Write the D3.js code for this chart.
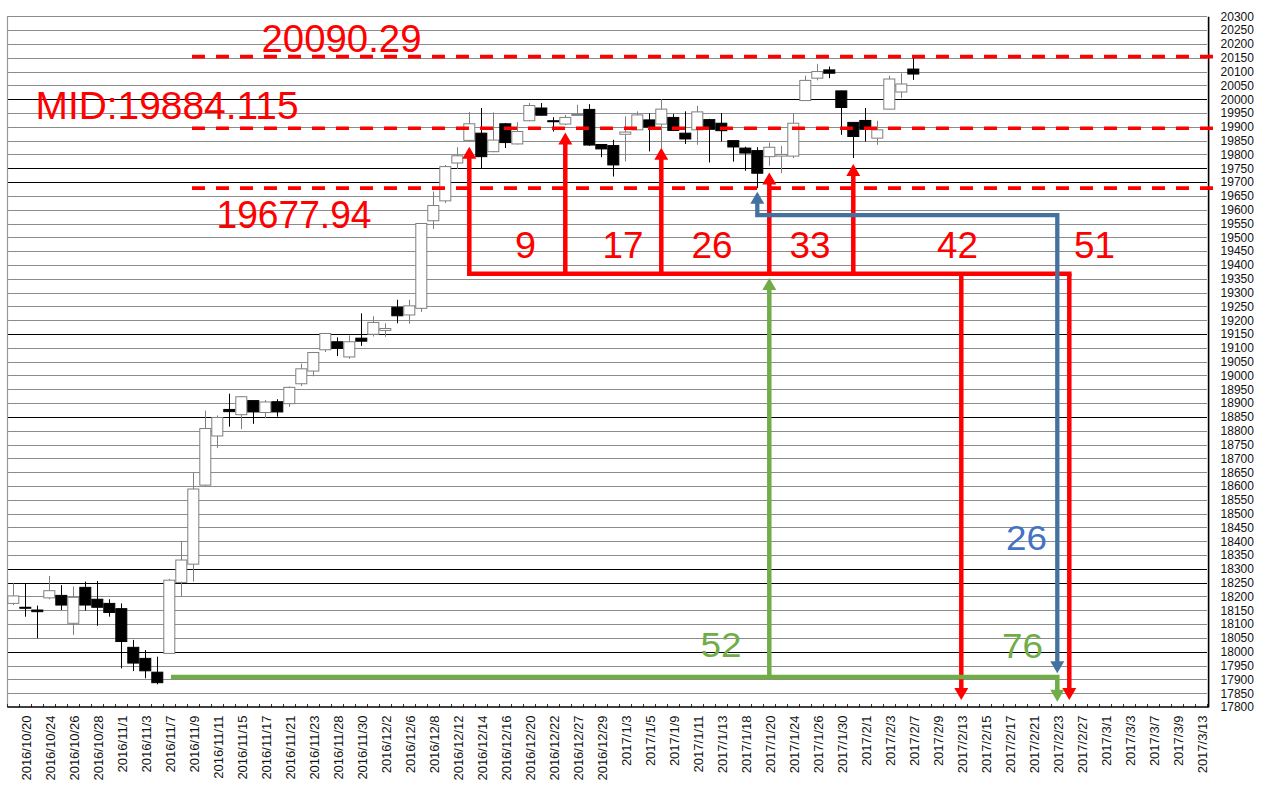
<!DOCTYPE html>
<html><head><meta charset="utf-8">
<script src="https://cdn.jsdelivr.net/npm/d3@7"></script>
<style>body{margin:0;background:#fff;} svg{display:block;}</style>
</head><body>
<svg id="c" width="1263" height="789"></svg>
<script>
// ---- data ----
const dates = [
"2016/10/19","2016/10/20","2016/10/21","2016/10/24","2016/10/25","2016/10/26","2016/10/27","2016/10/28","2016/10/31",
"2016/11/1","2016/11/2","2016/11/3","2016/11/4","2016/11/7","2016/11/8","2016/11/9","2016/11/10","2016/11/11","2016/11/14","2016/11/15","2016/11/16","2016/11/17","2016/11/18","2016/11/21","2016/11/22","2016/11/23","2016/11/25","2016/11/28","2016/11/29","2016/11/30",
"2016/12/1","2016/12/2","2016/12/5","2016/12/6","2016/12/7","2016/12/8","2016/12/9","2016/12/12","2016/12/13","2016/12/14","2016/12/15","2016/12/16","2016/12/19","2016/12/20","2016/12/21","2016/12/22","2016/12/23","2016/12/27","2016/12/28","2016/12/29","2016/12/30",
"2017/1/3","2017/1/4","2017/1/5","2017/1/6","2017/1/9","2017/1/10","2017/1/11","2017/1/12","2017/1/13","2017/1/17","2017/1/18","2017/1/19","2017/1/20","2017/1/23","2017/1/24","2017/1/25","2017/1/26","2017/1/27","2017/1/30","2017/1/31",
"2017/2/1","2017/2/2","2017/2/3","2017/2/6","2017/2/7","2017/2/8","2017/2/9","2017/2/10","2017/2/13","2017/2/14","2017/2/15","2017/2/16","2017/2/17","2017/2/20","2017/2/21","2017/2/22","2017/2/23","2017/2/24","2017/2/27","2017/2/28",
"2017/3/1","2017/3/2","2017/3/3","2017/3/6","2017/3/7","2017/3/8","2017/3/9","2017/3/10","2017/3/13"];

const opens  = [18175,18161,18151,18195,18204,18103,18233,18190,18175,18156,18016,17976,17926,17994,18251,18317,18603,18781,18877,18858,18909,18866,18905,18898,18970,19016,19093,19122,19067,19135,19149,19163,19247,19219,19243,19560,19632,19769,19851,19877,19810,19911,19838,19922,19968,19922,19910,19943,19963,19836,19832,19873,19889,19925,19910,19934,19877,19889,19926,19913,19850,19823,19814,19792,19794,19794,19995,20076,20106,20030,19916,19923,19859,19964,20026,20109];
const highs  = [18248,18245,18167,18274,18241,18236,18254,18256,18190,18175,18043,18006,17982,18264,18401,18650,18873,18855,18934,18925,18910,18911,18914,18960,19043,19085,19153,19138,19145,19225,19214,19189,19274,19274,19552,19666,19762,19826,19954,19968,19952,19913,19917,19986,19986,19935,19943,19980,19982,19838,19853,19938,19956,19949,20000,19946,19956,19976,19929,19950,19852,19828,19826,19843,19831,19950,20085,20128,20118,20031,19917,19968,19922,20085,20094,20150];
const lows   = [18169,18127,18049,18190,18151,18061,18149,18094,18127,17940,17930,17904,17882,17993,18200,18254,18600,18737,18815,18806,18825,18845,18851,18886,18962,18997,19085,19070,19060,19107,19141,19140,19189,19187,19230,19530,19624,19747,19846,19750,19808,19823,19836,19920,19941,19883,19906,19940,19831,19790,19720,19775,19888,19811,19823,19887,19838,19835,19771,19847,19774,19741,19678,19759,19732,19787,19994,20068,20076,19871,19787,19847,19835,19963,20004,20070];
const closes = [18202,18160,18145,18221,18169,18197,18169,18161,18142,18037,17959,17931,17888,18259,18332,18589,18808,18848,18869,18923,18868,18904,18868,18957,19024,19083,19152,19098,19122,19124,19192,19170,19216,19252,19550,19615,19756,19795,19911,19792,19852,19843,19883,19977,19942,19919,19934,19945,19834,19820,19762,19881,19943,19899,19964,19887,19856,19954,19891,19886,19827,19805,19732,19826,19800,19913,20068,20100,20094,19970,19865,19891,19889,20073,20055,20091];

const yTicks = d3.range(17800, 20301, 50);
const xLabels = dates.filter((d, i) => i % 2 === 1);

// annotation content
const levelValues = [20154, 19895, 19678];
const levelTexts = ["20090.29", "MID:19884.115", "19677.94"];
const redUpDates = ["2016/12/13","2016/12/23","2017/1/6","2017/1/20","2017/1/31"];
const redUpTips = [19828, 19879, 19824, 19735, 19765];
const redDownDates = ["2017/2/13","2017/2/24"];
const redCounts = ["9","17","26","33","42","51"];

// ---- style / layout ----
const darkGrid = [20000, 19750, 19700, 19150, 18850, 18300, 18250, 18000];
const RED = "#FF0000", BLUE = "#44729E", BLUE_T = "#4472C4", GREEN = "#70AD47";

const svg = d3.select("#c");
const x = d3.scaleBand().domain(dates).range([7.3, 1207.3]).padding(0);
const y = d3.scaleLinear().domain([17800, 20300]).range([707, 16.3]);
const bw = x.bandwidth();
const cx = d => x(d) + bw / 2;
const ux = u => x.range()[0] + u * bw;   // position in category units
const crisp = v => Math.round(y(v)) + 0.5;

// gridlines
svg.append("g").selectAll("line").data(yTicks.filter(v => v > 17800)).join("line")
  .attr("x1", x.range()[0]).attr("x2", x.range()[1])
  .attr("y1", crisp).attr("y2", crisp)
  .attr("stroke", v => darkGrid.includes(v) ? "#000" : "#8c8c8c")
  .attr("shape-rendering", "crispEdges");
// left border
svg.append("line").attr("x1", 7.5).attr("x2", 7.5).attr("y1", y(20300)).attr("y2", y(17800))
  .attr("stroke", "#999").attr("stroke-width", 1.2);

// candles
const candles = opens.map((o, i) => ({d: dates[i], o, h: highs[i], l: lows[i], c: closes[i]}));
const cg = svg.append("g");
cg.selectAll("line.w").data(candles).join("line").attr("class", "w")
  .attr("x1", d => Math.round(cx(d.d)) + 0.5).attr("x2", d => Math.round(cx(d.d)) + 0.5)
  .attr("y1", d => y(d.h)).attr("y2", d => y(d.l))
  .attr("stroke", d => d.c >= d.o ? "#7f7f7f" : "#000").attr("stroke-width", 1);
cg.selectAll("rect").data(candles).join("rect")
  .attr("x", d => x(d.d) + 0.5).attr("width", bw - 1)
  .attr("y", d => y(Math.max(d.o, d.c)))
  .attr("height", d => Math.max(1, Math.abs(y(d.o) - y(d.c))))
  .attr("fill", d => d.c >= d.o ? "#fff" : "#000")
  .attr("stroke", d => d.c >= d.o ? "#7f7f7f" : "#000").attr("stroke-width", 1);

// x axis
const xAxis = d3.axisBottom(x).tickValues(xLabels).tickSize(0).tickPadding(0);
const gx = svg.append("g").attr("transform", `translate(0,${y(17800)})`).call(xAxis);
gx.select(".domain").remove();
gx.selectAll("text")
  .attr("transform", "translate(1.5,8.5) rotate(-90)")
  .attr("text-anchor", "end").attr("dy", "0.35em").attr("x", 0).attr("y", 0)
  .style("font-family", "'Liberation Sans', Arial, sans-serif").style("font-size", "13px").attr("fill", "#111");
// category boundary ticks (inside)
svg.append("g").selectAll("line").data(dates.map(d => x(d)).concat([x.range()[1]])).join("line")
  .attr("x1", v => Math.round(v) + 0.5).attr("x2", v => Math.round(v) + 0.5)
  .attr("y1", y(17800) - 3).attr("y2", y(17800)).attr("stroke", "#333");
svg.append("line").attr("x1", x.range()[0]).attr("x2", x.range()[1] + 1)
  .attr("y1", y(17800)).attr("y2", y(17800)).attr("stroke", "#000").attr("stroke-width", 1.6);

// y axis (right)
const yAxis = d3.axisRight(y).tickValues(yTicks).tickSize(0).tickPadding(12.5).tickFormat(d3.format("d"));
const gy = svg.append("g").attr("transform", `translate(${x.range()[1] + 0.8},0)`).call(yAxis);
gy.select(".domain").attr("stroke", "#000").attr("stroke-width", 1.6);
gy.selectAll("text").style("font-family", "'Liberation Sans', Arial, sans-serif").style("font-size", "12px").attr("fill", "#111");

// ---- annotations ----
const ag = svg.append("g");
const FONT = "'Liberation Sans Narrow', 'Liberation Sans', Arial, sans-serif";

// dashed levels
ag.selectAll("line.lv").data(levelValues).join("line").attr("class", "lv")
  .attr("x1", ux(15.39)).attr("x2", ux(100.8)).attr("y1", d => y(d)).attr("y2", d => y(d))
  .attr("stroke", RED).attr("stroke-width", 3.6).attr("stroke-dasharray", "13,11");

function head(xp, tipY, dir, color) { // dir -1 up, +1 down
  const hw = 7, hl = 12;
  ag.append("path").attr("d", `M${xp},${tipY} L${xp - hw},${tipY - dir * hl} L${xp + hw},${tipY - dir * hl} Z`).attr("fill", color);
}
function seg(points, color, w) {
  ag.append("path").attr("d", d3.line()(points)).attr("fill", "none")
    .attr("stroke", color).attr("stroke-width", w).attr("stroke-linejoin", "miter").attr("stroke-linecap", "butt");
}
const LW = 4.5, HL = 12;
// red bracket
const yR = y(19368);
seg([[cx(redUpDates[0]) - LW / 2, yR], [cx(redDownDates[1]) + LW / 2, yR]], RED, LW);
redUpDates.forEach((d, i) => {
  const tip = y(redUpTips[i]);
  seg([[cx(d), yR], [cx(d), tip + HL - 1]], RED, LW);
  head(cx(d), tip, -1, RED);
});
redDownDates.forEach(d => {
  const tip = y(17825);
  seg([[cx(d), yR], [cx(d), tip - HL + 1]], RED, LW);
  head(cx(d), tip, 1, RED);
});
// blue
const bA = "2017/1/19", bB = "2017/2/23";
seg([[cx(bA), y(19665) + HL - 1], [cx(bA), y(19580)], [cx(bB), y(19580)], [cx(bB), y(17922) - HL + 1]], BLUE, 4.3);
head(cx(bA), y(19665), -1, BLUE);
head(cx(bB), y(17922), 1, BLUE);
// green
const gA = "2017/1/20", gB = "2017/2/23";
seg([[ux(13.64), y(17909)], [cx(gB), y(17909)], [cx(gB), y(17819) - HL + 1]], GREEN, 4.5);
head(cx(gB), y(17819), 1, GREEN);
seg([[cx(gA), y(17909)], [cx(gA), y(19353) + HL - 1]], GREEN, 4.5);
head(cx(gA), y(19353), -1, GREEN);

// texts
const texts = [
  {t: levelTexts[0], u: 27.85, v: 20171, s: 39, len: 160, c: RED},
  {t: levelTexts[1], u: 13.31, v: 19928, s: 39, len: 263, c: RED},
  {t: levelTexts[2], u: 23.89, v: 19534, s: 39, len: 155, c: RED},
  {t: redCounts[0], u: 43.18, v: 19425, s: 37, len: 21, c: RED},
  {t: redCounts[1], u: 51.31, v: 19425, s: 37, len: 41, c: RED},
  {t: redCounts[2], u: 58.72, v: 19425, s: 37, len: 41, c: RED},
  {t: redCounts[3], u: 66.89, v: 19425, s: 37, len: 41, c: RED},
  {t: redCounts[4], u: 79.18, v: 19425, s: 37, len: 41, c: RED},
  {t: redCounts[5], u: 90.6, v: 19425, s: 37, len: 41, c: RED},
  {t: "26", u: 84.93, v: 18368, s: 35, len: 41, c: BLUE_T},
  {t: "52", u: 59.47, v: 17981, s: 35, len: 41, c: GREEN},
  {t: "76", u: 84.6, v: 17977, s: 35, len: 41, c: GREEN}
];
ag.selectAll("text").data(texts).join("text")
  .attr("x", d => ux(d.u)).attr("y", d => y(d.v))
  .attr("text-anchor", "middle").attr("fill", d => d.c)
  .attr("textLength", d => d.len).attr("lengthAdjust", "spacingAndGlyphs")
  .style("font-family", FONT).style("font-size", d => d.s + "px")
  .text(d => d.t);
</script>
</body></html>
